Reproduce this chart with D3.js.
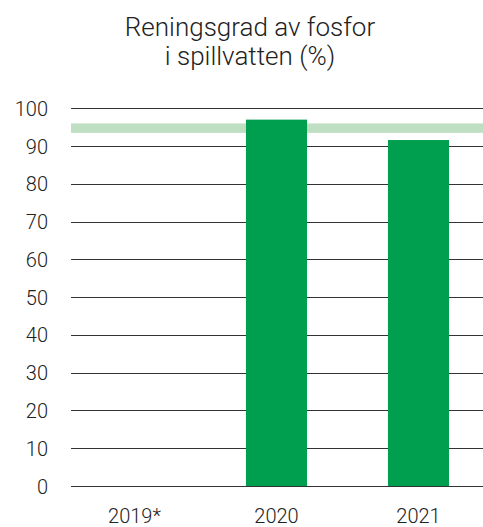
<!DOCTYPE html>
<html>
<head>
<meta charset="utf-8">
<script src="https://cdn.jsdelivr.net/npm/d3@7"></script>
<style>
  body { margin: 0; background: #fff; }
  text { font-family: Roboto, sans-serif; font-weight: 300; fill: #222; }
</style>
</head>
<body>
<div id="chart"></div>
<script>
var years = ["2019*", "2020", "2021"];
var values = [null, 97, 91.6];
var targetBand = [93.5, 96];
var yTicks = [0, 10, 20, 30, 40, 50, 60, 70, 80, 90, 100];

var svgWidth = 483;
var svgHeight = 527;

var svg = d3.select("#chart")
  .append("svg")
  .attr("width", svgWidth)
  .attr("height", svgHeight);

var x = d3.scaleBand()
  .domain(years)
  .range([63.5, 489.5])
  .paddingInner(0.57)
  .paddingOuter(0.285);

var y = d3.scaleLinear()
  .domain([0, 100])
  .range([486, 108.3]);

// title
svg.append("text")
  .attr("x", 250)
  .attr("text-anchor", "middle")
  .attr("font-size", "26px")
  .selectAll("tspan")
  .data(["Reningsgrad av fosfor", "i spillvatten (%)"])
  .enter()
  .append("tspan")
  .attr("x", 250)
  .attr("y", (d, i) => 36 + i * 29)
  .text(d => d);

// gridlines
svg.append("g")
  .selectAll("line")
  .data(yTicks)
  .enter()
  .append("line")
  .attr("x1", 71)
  .attr("x2", svgWidth)
  .attr("y1", d => Math.round(y(d)) + 0.5)
  .attr("y2", d => Math.round(y(d)) + 0.5)
  .attr("stroke", "#333")
  .attr("stroke-width", 1);

// target band
svg.append("rect")
  .attr("x", 71)
  .attr("width", svgWidth - 71)
  .attr("y", y(targetBand[1]))
  .attr("height", y(targetBand[0]) - y(targetBand[1]))
  .attr("fill", "#bfdfc3");

// bars
svg.append("g")
  .selectAll("rect")
  .data(years.map((d, i) => ({ year: d, value: values[i] })).filter(d => d.value != null))
  .enter()
  .append("rect")
  .attr("x", d => x(d.year))
  .attr("width", x.bandwidth())
  .attr("y", d => y(d.value))
  .attr("height", d => y(0) - y(d.value))
  .attr("fill", "#009e4f");

// y axis labels
var yAxis = d3.axisLeft(y).tickValues(yTicks).tickSize(0).tickPadding(0);
var yg = svg.append("g")
  .attr("transform", "translate(48,0)")
  .call(yAxis);
yg.select(".domain").remove();
yg.selectAll("text")
  .attr("font-size", "20px")
  .attr("dy", "0.35em")
  .style("font-family", "Roboto, sans-serif")
  .style("font-weight", 300)
  .attr("fill", "#222");

// x axis labels
var xAxis = d3.axisBottom(x).tickSize(0).tickPadding(0);
var xg = svg.append("g")
  .attr("transform", "translate(0,505)")
  .call(xAxis);
xg.select(".domain").remove();
xg.selectAll("text")
  .attr("font-size", "20px")
  .attr("dy", "0.9em")
  .style("font-family", "Roboto, sans-serif")
  .style("font-weight", 300)
  .attr("fill", "#222");
</script>
</body>
</html>
